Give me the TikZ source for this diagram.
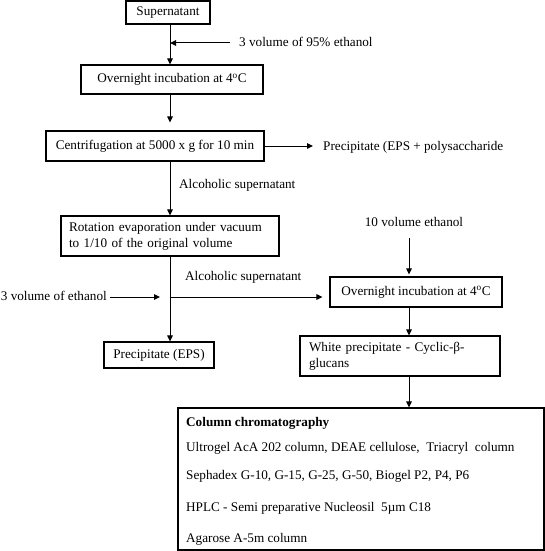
\documentclass[tikz,border=0pt]{standalone}
\usepackage{fontspec}
\setmainfont{Liberation Serif}
\usetikzlibrary{arrows.meta}

\tikzset{
  stepbox/.style={draw, line width=1.1pt, inner sep=0pt, text height=9pt, text depth=2.5pt},
  twobox/.style={draw, line width=1.1pt, inner sep=0pt, align=left},
  lbl/.style={inner sep=0pt, text height=9pt, text depth=2.5pt},
  arr/.style={-{Triangle[length=6pt,width=5.5pt]}, line width=1pt},
}

\begin{document}
\begin{tikzpicture}[x=1pt,y=-1pt,font=\fontsize{13.2}{16}\selectfont]
  \useasboundingbox (0,0) rectangle (545,551);
  \coordinate (spine) at (170,0);
  \coordinate (rcol) at (409,0);

  % main column
  \node[stepbox, minimum width=84pt, minimum height=23pt] (sup) at (168,12.5) {Supernatant};
  \node[stepbox, minimum width=182pt, minimum height=29pt] (ov1) at (172,79.5) {Overnight incubation at 4\textsuperscript{o}C};
  \node[stepbox, minimum width=218pt, minimum height=30pt] (cen) at (155,146) {Centrifugation at 5000 x g for 10 min};
  \node[twobox, text width=202pt, minimum width=218pt, minimum height=40pt] (rot) at (170,236)
    {Rotation evaporation under vacuum\\to 1/10 of the original volume};
  \node[stepbox, minimum width=110pt, minimum height=26pt] (prec) at (159,355) {Precipitate (EPS)};

  % right column
  \node[stepbox, minimum width=172pt, minimum height=30pt] (ov2) at (416,292) {Overnight incubation at 4\textsuperscript{o}C};
  \node[twobox, text width=182pt, minimum width=200pt, minimum height=40pt] (white) at (400,356)
    {White precipitate - Cyclic-β-\\glucans};
  \node[draw, line width=1.1pt, minimum width=366pt, minimum height=142pt] (col) at (361,479) {};
  \node[lbl, anchor=base west] (col1) at (186,426.5) {\bfseries Column chromatography};
  \node[lbl, anchor=base west] (col2) at (186,451.5) {Ultrogel AcA 202 column, DEAE cellulose,\ \ Triacryl\ \ column};
  \node[lbl, anchor=base west] (col3) at (186,479.5) {Sephadex G-10, G-15, G-25, G-50, Biogel P2, P4, P6};
  \node[lbl, anchor=base west] (col4) at (186,511.5) {HPLC - Semi preparative Nucleosil\ \ 5µm C18};
  \node[lbl, anchor=base west] (col5) at (186,542.5) {Agarose A-5m column};

  % side labels
  \node[lbl, anchor=west] (e95) at (239,43) {3 volume of 95\% ethanol};
  \node[lbl, anchor=west] (pep) at (323,147) {Precipitate (EPS + polysaccharide};
  \node[lbl, anchor=west] (alc1) at (179,185) {Alcoholic supernatant};
  \node[lbl, anchor=west] (alc2) at (185,277) {Alcoholic supernatant};
  \node[lbl, anchor=east] (e3) at (107,297) {3 volume of ethanol};
  \node[lbl] (e10) at (414,223) {10 volume ethanol};

  \draw[arr, shorten <=9pt] (e95.west) -- (e95.west -| spine);
  \draw[arr] (sup.south -| spine) -- (ov1.north -| spine);
  \draw[arr, shorten >=8pt] (ov1.south -| spine) -- (cen.north -| spine);
  \draw[arr, shorten >=10pt] (cen.east) -- (cen.east -| pep.west);
  \draw[arr] (cen.south -| spine) -- (rot.north -| spine);
  \draw[arr] (rot.south -| spine) -- (prec.north -| spine);
  \draw[arr, shorten <=3pt, shorten >=10pt] (e3.east) -- (e3.east -| spine);
  \draw[arr, shorten >=7pt] (e3.east -| spine) -- (e3.east -| ov2.west);
  \draw[arr, shorten <=9pt, shorten >=2pt] (e10.south -| rcol) -- (ov2.north -| rcol);
  \draw[arr] (ov2.south -| rcol) -- (white.north -| rcol);
  \draw[arr] (white.south -| rcol) -- (col.north -| rcol);
\end{tikzpicture}
\end{document}
